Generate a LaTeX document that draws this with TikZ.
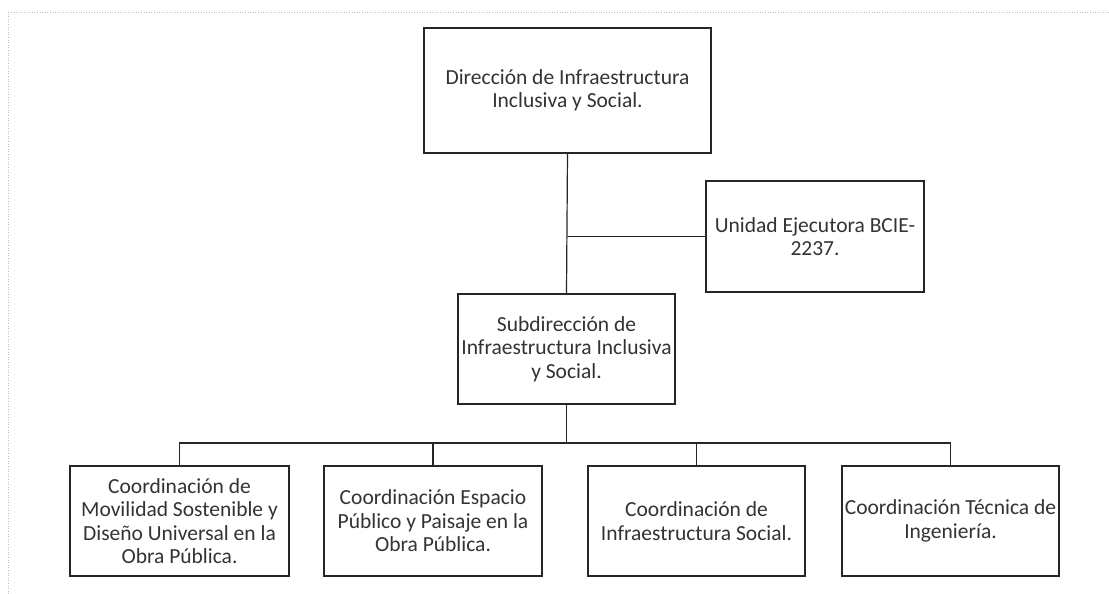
\documentclass[tikz,border=0pt]{standalone}
\usepackage{fontspec}
\setmainfont{Carlito}
\begin{document}
\begin{tikzpicture}[x=1pt,y=-1pt,
  box/.style={draw=black!85, line width=1.4pt, rectangle, align=center, inner sep=1pt,
    font=\fontsize{21.5}{23.5}\selectfont, text=black!80},
  conn/.style={draw=black!85, line width=1.2pt},
  frame/.style={draw=black!25, line width=0.6pt, dotted}]
\useasboundingbox (0,0) rectangle (1109,594);
\fill[white] (0,0) rectangle (1109,594);
\draw[frame] (8,594) -- (8,12) -- (1109,12);
\node[box, minimum width=287pt, minimum height=125pt] (dir) at (567.5,90.5)
  {Dirección de Infraestructura\\Inclusiva y Social.};
\node[box, minimum width=218pt, minimum height=111pt] (ue) at (815,236.5)
  {Unidad Ejecutora BCIE-\\2237.};
\node[box, minimum width=217pt, minimum height=110pt] (sub) at (566.5,349)
  {Subdirección de\\Infraestructura Inclusiva\\y Social.};
\node[box, minimum width=219pt, minimum height=110pt] (c1) at (179.5,521)
  {Coordinación de\\Movilidad Sostenible y\\Diseño Universal en la\\Obra Pública.};
\node[box, minimum width=218pt, minimum height=110pt] (c2) at (433,521)
  {Coordinación Espacio\\Público y Paisaje en la\\Obra Pública.};
\node[box, minimum width=217pt, minimum height=110pt] (c3) at (696.5,521)
  {Coordinación de\\Infraestructura Social.};
\node[box, minimum width=217pt, minimum height=110pt] (c4) at (950.5,521)
  {Coordinación Técnica de\\Ingeniería.};
\coordinate (j1) at (dir.south |- ue.west);
\coordinate (bus) at (566.5,443);
\draw[conn] (dir.south) -- (sub.north);
\draw[conn] (j1) -- (ue.west);
\draw[conn] (sub.south) -- (bus);
\draw[conn] (c1.north) -- (c1.north |- bus) -- (c4.north |- bus) -- (c4.north);
\draw[conn] (c2.north) -- (c2.north |- bus);
\draw[conn] (c3.north) -- (c3.north |- bus);
\end{tikzpicture}
\end{document}
